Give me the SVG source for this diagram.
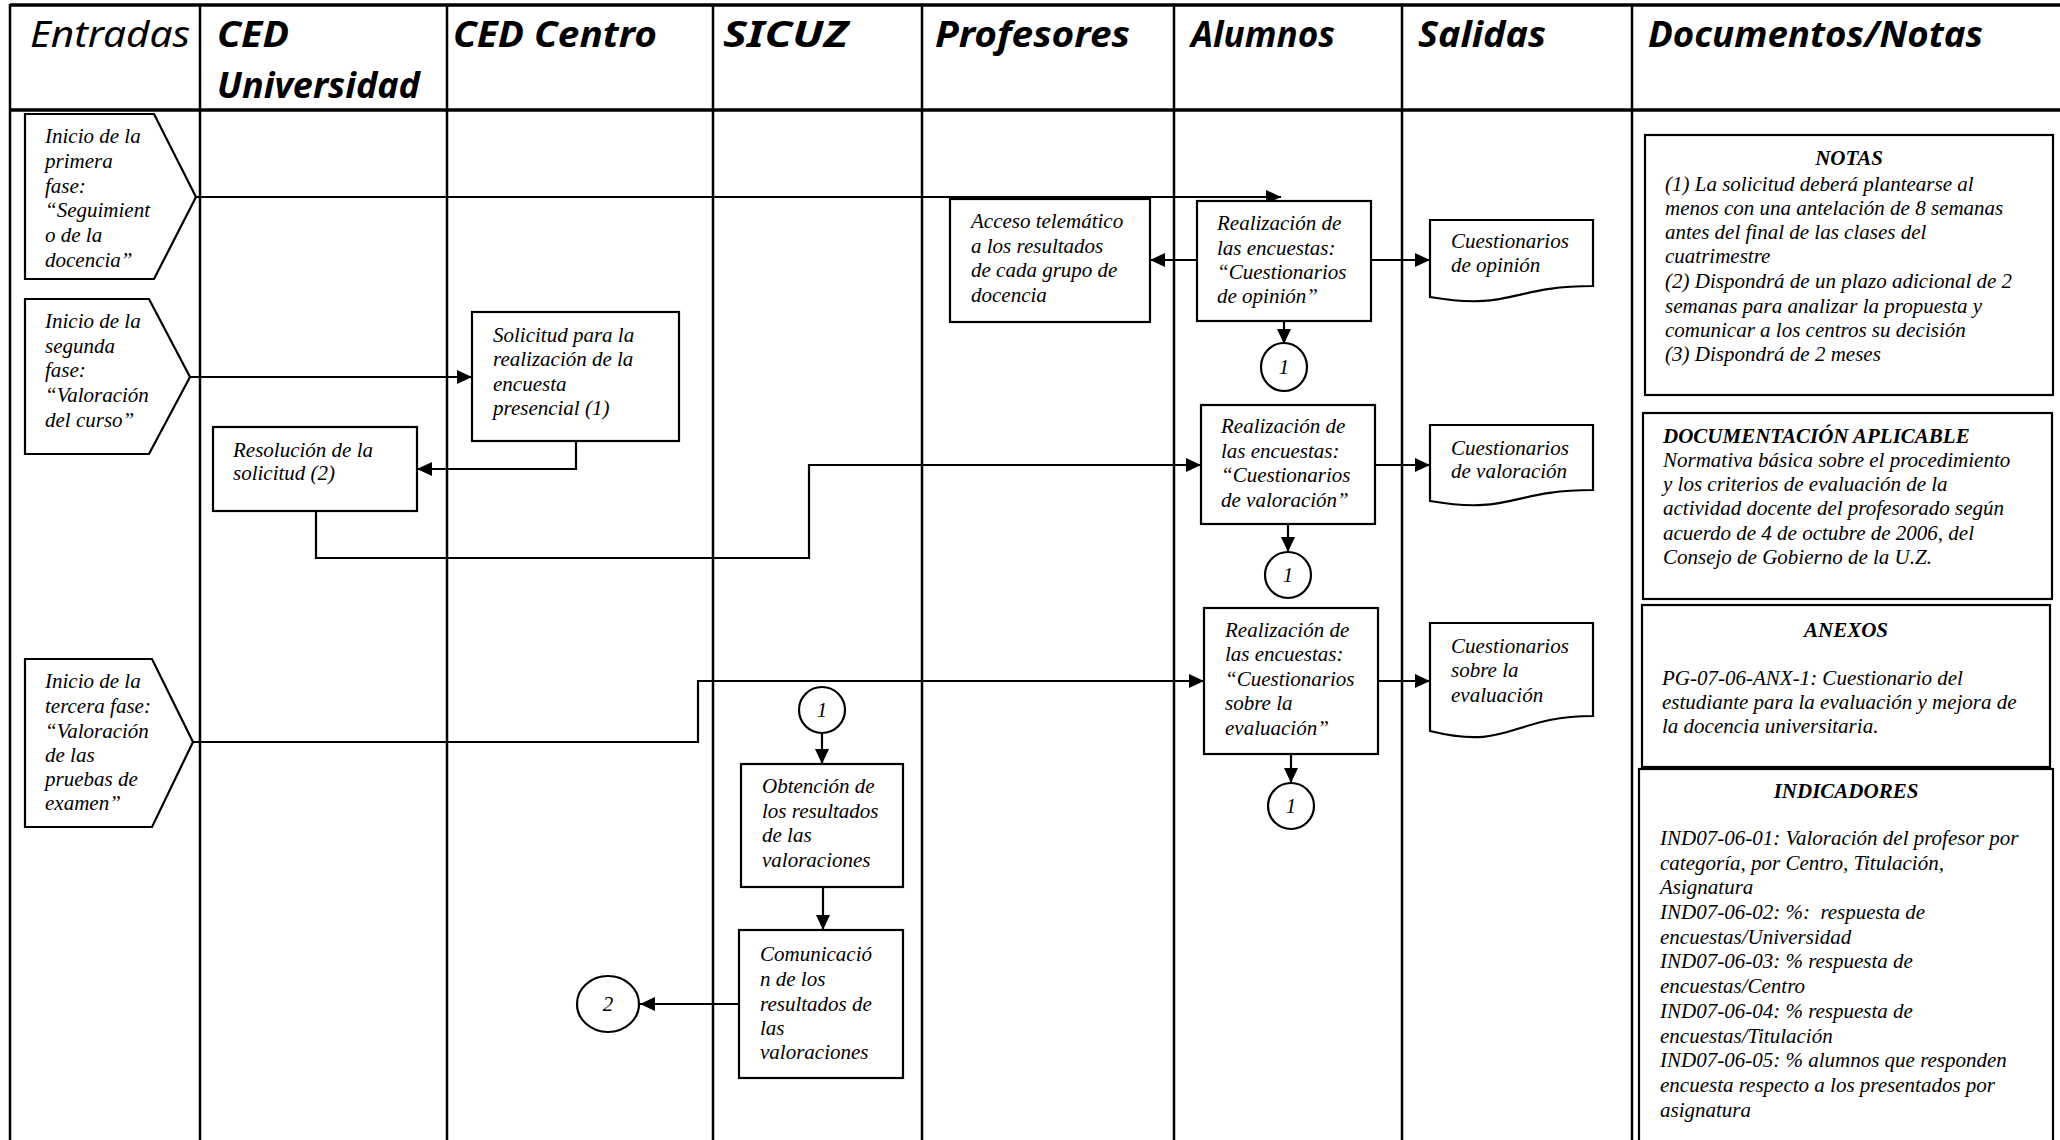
<svg xmlns="http://www.w3.org/2000/svg" width="2060" height="1140" viewBox="0 0 2060 1140">
<defs>
<style>
.hd{font-family:"Noto Sans","DejaVu Sans",sans-serif;font-style:italic;font-weight:bold;font-size:36px;fill:#000}
.hdn{font-weight:normal}
.t{font-family:"Liberation Serif","Times New Roman",serif;font-style:italic;font-size:21px;fill:#000}
.tb{font-weight:bold}
.box{fill:#fff;stroke:#000;stroke-width:2.2}
.lane{stroke:#000;stroke-width:2.5;fill:none}
.hl{stroke:#000;stroke-width:3.5;fill:none}
.c{fill:none;stroke:#000;stroke-width:2.2}
.ca{fill:none;stroke:#000;stroke-width:2.2;marker-end:url(#ah)}
</style>
<marker id="ah" markerUnits="userSpaceOnUse" markerWidth="16" markerHeight="14" refX="15" refY="7" orient="auto">
<path d="M0,0 L15,7 L0,14 Z" fill="#000"/>
</marker>
</defs>
<rect width="2060" height="1140" fill="#fff"/>

<g id="lanes">
<line class="hl" x1="10" y1="5" x2="2060" y2="5"/>
<line class="hl" x1="10" y1="110" x2="2060" y2="110"/>
<line class="lane" x1="10" y1="4" x2="10" y2="1140"/>
<line class="lane" x1="200" y1="4" x2="200" y2="1140"/>
<line class="lane" x1="447" y1="4" x2="447" y2="1140"/>
<line class="lane" x1="713" y1="4" x2="713" y2="1140"/>
<line class="lane" x1="922" y1="4" x2="922" y2="1140"/>
<line class="lane" x1="1174" y1="4" x2="1174" y2="1140"/>
<line class="lane" x1="1402" y1="4" x2="1402" y2="1140"/>
<line class="lane" x1="1632" y1="4" x2="1632" y2="1140"/>
</g>

<g id="headers">
<text class="hd hdn" x="30" y="47" textLength="160" lengthAdjust="spacingAndGlyphs">Entradas</text>
<text class="hd" x="217" y="47" textLength="72" lengthAdjust="spacingAndGlyphs">CED</text>
<text class="hd" x="217" y="98" textLength="203" lengthAdjust="spacingAndGlyphs">Universidad</text>
<text class="hd" x="453" y="47" textLength="204" lengthAdjust="spacingAndGlyphs">CED Centro</text>
<text class="hd" x="723" y="47" textLength="125" lengthAdjust="spacingAndGlyphs">SICUZ</text>
<text class="hd" x="935" y="47" textLength="195" lengthAdjust="spacingAndGlyphs">Profesores</text>
<text class="hd" x="1191" y="47" textLength="144" lengthAdjust="spacingAndGlyphs">Alumnos</text>
<text class="hd" x="1418" y="47" textLength="128" lengthAdjust="spacingAndGlyphs">Salidas</text>
<text class="hd" x="1648" y="47" textLength="335" lengthAdjust="spacingAndGlyphs">Documentos/Notas</text>
</g>

<g id="connectors">
<polyline class="ca" points="196,197 1281,197"/>
<polyline class="ca" points="190,377 472,377"/>
<polyline class="ca" points="193,742 698,742 698,681 1204,681"/>
<polyline class="ca" points="576,441 576,469 417,469"/>
<polyline class="ca" points="316,511 316,558 809,558 809,465 1201,465"/>
<polyline class="ca" points="1197,260 1150,260"/>
<polyline class="ca" points="1371,260 1430,260"/>
<polyline class="ca" points="1284,321 1284,344"/>
<polyline class="ca" points="1375,465 1430,465"/>
<polyline class="ca" points="1288,524 1288,552"/>
<polyline class="ca" points="1378,681 1430,681"/>
<polyline class="ca" points="1291,754 1291,783"/>
<polyline class="ca" points="822,733 822,764"/>
<polyline class="ca" points="823,887 823,930"/>
<polyline class="ca" points="739,1004 640,1004"/>
</g>

<g id="entrada1">
<polygon class="box" points="25,114 154,114 196,197 154,279 25,279"/>
<text class="t"><tspan x="45" y="143">Inicio de la</tspan><tspan x="45" y="168">primera</tspan><tspan x="45" y="193">fase:</tspan><tspan x="45" y="217">“Seguimient</tspan><tspan x="45" y="242">o de la</tspan><tspan x="45" y="267">docencia”</tspan></text>
</g>
<g id="entrada2">
<polygon class="box" points="25,299 149,299 190,377 149,454 25,454"/>
<text class="t"><tspan x="45" y="328">Inicio de la</tspan><tspan x="45" y="353">segunda</tspan><tspan x="45" y="377">fase:</tspan><tspan x="45" y="402">“Valoración</tspan><tspan x="45" y="427">del curso”</tspan></text>
</g>
<g id="entrada3">
<polygon class="box" points="25,659 152,659 193,742 152,827 25,827"/>
<text class="t"><tspan x="45" y="688">Inicio de la</tspan><tspan x="45" y="713">tercera fase:</tspan><tspan x="45" y="738">“Valoración</tspan><tspan x="45" y="762">de las</tspan><tspan x="45" y="786">pruebas de</tspan><tspan x="45" y="810">examen”</tspan></text>
</g>

<g id="solicitud">
<rect class="box" x="472" y="312" width="207" height="129"/>
<text class="t"><tspan x="493" y="342">Solicitud para la</tspan><tspan x="493" y="366">realización de la</tspan><tspan x="493" y="391">encuesta</tspan><tspan x="493" y="415">presencial (1)</tspan></text>
</g>
<g id="resolucion">
<rect class="box" x="213" y="427" width="204" height="84"/>
<text class="t"><tspan x="233" y="457">Resolución de la</tspan><tspan x="233" y="480">solicitud (2)</tspan></text>
</g>

<g id="acceso">
<rect class="box" x="950" y="199" width="200" height="123"/>
<text class="t"><tspan x="971" y="228">Acceso telemático</tspan><tspan x="971" y="253">a los resultados</tspan><tspan x="971" y="277">de cada grupo de</tspan><tspan x="971" y="302">docencia</tspan></text>
</g>

<g id="encuesta-opinion">
<rect class="box" x="1197" y="201" width="174" height="120"/>
<text class="t"><tspan x="1217" y="230">Realización de</tspan><tspan x="1217" y="255">las encuestas:</tspan><tspan x="1217" y="279">“Cuestionarios</tspan><tspan x="1217" y="303">de opinión”</tspan></text>
</g>
<g id="encuesta-valoracion">
<rect class="box" x="1201" y="405" width="174" height="119"/>
<text class="t"><tspan x="1221" y="433">Realización de</tspan><tspan x="1221" y="458">las encuestas:</tspan><tspan x="1221" y="482">“Cuestionarios</tspan><tspan x="1221" y="507">de valoración”</tspan></text>
</g>
<g id="encuesta-evaluacion">
<rect class="box" x="1204" y="608" width="174" height="146"/>
<text class="t"><tspan x="1225" y="637">Realización de</tspan><tspan x="1225" y="661">las encuestas:</tspan><tspan x="1225" y="686">“Cuestionarios</tspan><tspan x="1225" y="710">sobre la</tspan><tspan x="1225" y="735">evaluación”</tspan></text>
</g>

<g id="con1a">
<ellipse class="box" cx="1284" cy="367" rx="23" ry="24"/>
<text class="t" x="1284" y="374" text-anchor="middle" font-size="19">1</text>
</g>
<g id="con1b">
<ellipse class="box" cx="1288" cy="575" rx="23" ry="23"/>
<text class="t" x="1288" y="582" text-anchor="middle" font-size="19">1</text>
</g>
<g id="con1c">
<ellipse class="box" cx="1291" cy="806" rx="23" ry="23"/>
<text class="t" x="1291" y="813" text-anchor="middle" font-size="19">1</text>
</g>

<g id="doc-opinion">
<path class="box" d="M1430,220 L1593,220 L1593,286 C1511,286 1511,311 1430,297 Z"/>
<text class="t"><tspan x="1451" y="248">Cuestionarios</tspan><tspan x="1451" y="272">de opinión</tspan></text>
</g>
<g id="doc-valoracion">
<path class="box" d="M1430,425 L1593,425 L1593,490 C1511,490 1511,515 1430,501 Z"/>
<text class="t"><tspan x="1451" y="455">Cuestionarios</tspan><tspan x="1451" y="478">de valoración</tspan></text>
</g>
<g id="doc-evaluacion">
<path class="box" d="M1430,623 L1593,623 L1593,716 C1511,716 1511,751 1430,731 Z"/>
<text class="t"><tspan x="1451" y="653">Cuestionarios</tspan><tspan x="1451" y="677">sobre la</tspan><tspan x="1451" y="702">evaluación</tspan></text>
</g>

<g id="con1-sicuz">
<ellipse class="box" cx="822" cy="710" rx="23" ry="23"/>
<text class="t" x="822" y="717" text-anchor="middle" font-size="19">1</text>
</g>
<g id="obtencion">
<rect class="box" x="741" y="764" width="162" height="123"/>
<text class="t"><tspan x="762" y="793">Obtención de</tspan><tspan x="762" y="818">los resultados</tspan><tspan x="762" y="842">de las</tspan><tspan x="762" y="867">valoraciones</tspan></text>
</g>
<g id="comunicacion">
<rect class="box" x="739" y="930" width="164" height="148"/>
<text class="t"><tspan x="760" y="961">Comunicació</tspan><tspan x="760" y="986">n de los</tspan><tspan x="760" y="1011">resultados de</tspan><tspan x="760" y="1035">las</tspan><tspan x="760" y="1059">valoraciones</tspan></text>
</g>
<g id="con2">
<ellipse class="box" cx="608" cy="1004" rx="31" ry="28"/>
<text class="t" x="608" y="1011" text-anchor="middle" font-size="19">2</text>
</g>

<g id="notas">
<rect class="box" x="1645" y="135" width="408" height="260"/>
<text class="t tb" x="1849" y="165" text-anchor="middle">NOTAS</text>
<text class="t"><tspan x="1665" y="191">(1) La solicitud deberá plantearse al</tspan><tspan x="1665" y="215">menos con una antelación de 8 semanas</tspan><tspan x="1665" y="239">antes del final de las clases del</tspan><tspan x="1665" y="263">cuatrimestre</tspan><tspan x="1665" y="288">(2) Dispondrá de un plazo adicional de 2</tspan><tspan x="1665" y="313">semanas para analizar la propuesta y</tspan><tspan x="1665" y="337">comunicar a los centros su decisión</tspan><tspan x="1665" y="361">(3) Dispondrá de 2 meses</tspan></text>
</g>
<g id="documentacion">
<rect class="box" x="1643" y="413" width="409" height="186"/>
<text class="t tb" x="1663" y="443">DOCUMENTACIÓN APLICABLE</text>
<text class="t"><tspan x="1663" y="467">Normativa básica sobre el procedimiento</tspan><tspan x="1663" y="491">y los criterios de evaluación de la</tspan><tspan x="1663" y="515">actividad docente del profesorado según</tspan><tspan x="1663" y="540">acuerdo de 4 de octubre de 2006, del</tspan><tspan x="1663" y="564">Consejo de Gobierno de la U.Z.</tspan></text>
</g>
<g id="anexos">
<rect class="box" x="1642" y="605" width="408" height="162"/>
<text class="t tb" x="1846" y="637" text-anchor="middle">ANEXOS</text>
<text class="t"><tspan x="1662" y="685">PG-07-06-ANX-1: Cuestionario del</tspan><tspan x="1662" y="709">estudiante para la evaluación y mejora de</tspan><tspan x="1662" y="733">la docencia universitaria.</tspan></text>
</g>
<g id="indicadores">
<rect class="box" x="1639" y="769" width="414" height="390"/>
<text class="t tb" x="1846" y="798" text-anchor="middle">INDICADORES</text>
<text class="t" xml:space="preserve"><tspan x="1660" y="845">IND07-06-01: Valoración del profesor por</tspan><tspan x="1660" y="870">categoría, por Centro, Titulación,</tspan><tspan x="1660" y="894">Asignatura</tspan><tspan x="1660" y="919">IND07-06-02: %:  respuesta de</tspan><tspan x="1660" y="944">encuestas/Universidad</tspan><tspan x="1660" y="968">IND07-06-03: % respuesta de</tspan><tspan x="1660" y="993">encuestas/Centro</tspan><tspan x="1660" y="1018">IND07-06-04: % respuesta de</tspan><tspan x="1660" y="1043">encuestas/Titulación</tspan><tspan x="1660" y="1067">IND07-06-05: % alumnos que responden</tspan><tspan x="1660" y="1092">encuesta respecto a los presentados por</tspan><tspan x="1660" y="1117">asignatura</tspan></text>
</g>
</svg>
